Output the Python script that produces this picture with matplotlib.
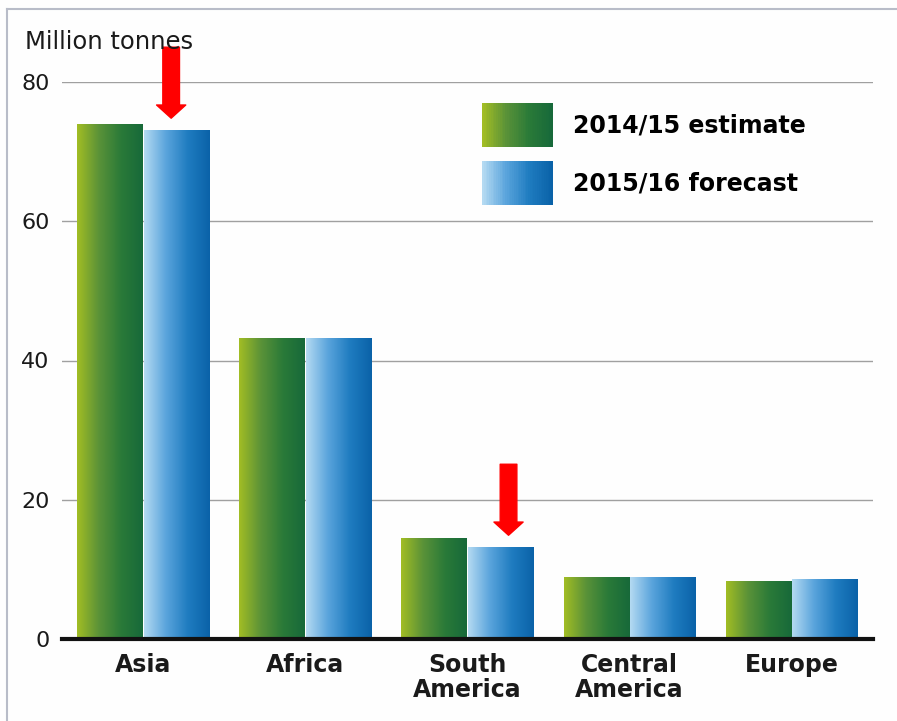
import numpy as np
import matplotlib
matplotlib.use('Agg')
from matplotlib import pyplot as plt
from matplotlib.colors import LinearSegmentedColormap
from matplotlib.legend_handler import HandlerBase
from matplotlib.patches import Rectangle
from matplotlib.lines import Line2D

# data (million tonnes)
regions = ['Asia', 'Africa', 'South\nAmerica', 'Central\nAmerica', 'Europe']
estimate_2014 = [73.9, 43.2, 14.4, 8.8, 8.2]
forecast_2015 = [73.0, 43.2, 13.1, 8.9, 8.6]
series_labels = ['2014/15 estimate', '2015/16 forecast']
flagged = [0, 2]  # regions marked with a red arrow (forecast bar)
arrow_shift = [0.173, 0.253]

green_cmap = LinearSegmentedColormap.from_list('g', ['#a2bd24', '#5a9238', '#2a7a38', '#17693a'])
blue_cmap = LinearSegmentedColormap.from_list('b', ['#b4daf2', '#5aa4dc', '#1f7cc0', '#0a62a8'])


class GradientHandler(HandlerBase):
    """Legend key drawn as vertical stripes of a colormap."""
    def __init__(self, cmap, n=40):
        super().__init__()
        self.cmap = cmap
        self.n = n

    def create_artists(self, legend, orig_handle, xdescent, ydescent,
                       width, height, fontsize, trans):
        arts = []
        w = width / self.n
        for i in range(self.n):
            arts.append(Rectangle((-xdescent + i * w, -ydescent), w * 1.05, height,
                                  facecolor=self.cmap(i / (self.n - 1)),
                                  edgecolor='none', transform=trans))
        return arts


def gradient_bars(ax, bars, cmap):
    grad = np.linspace(0, 1, 256).reshape(1, -1)
    for b in bars:
        x0, y0 = b.get_x(), b.get_y()
        ax.imshow(grad, cmap=cmap, aspect='auto', zorder=2,
                  extent=(x0, x0 + b.get_width(), y0, y0 + b.get_height()))


fig = plt.figure(figsize=(8.97, 7.21), dpi=100)
fig.patch.set_facecolor('#fefefe')
ax = fig.add_axes([62 / 897, 82 / 721, 811 / 897, 557 / 721])

x = np.arange(len(regions))
w = 0.405
bars_g = ax.bar(x - 0.205, estimate_2014, w, color='none', zorder=2)
bars_b = ax.bar(x + 0.205, forecast_2015, w, color='none', zorder=2)
gradient_bars(ax, bars_g, green_cmap)
gradient_bars(ax, bars_b, blue_cmap)

# red arrows above flagged forecast bars
for i, dx in zip(flagged, arrow_shift):
    v = forecast_2015[i]
    ax.annotate('', xy=(x[i] + dx, v + 1.8), xytext=(x[i] + dx, v + 12.0),
                arrowprops=dict(arrowstyle='simple,head_length=0.95,head_width=2.1,tail_width=1.2',
                                mutation_scale=10, color='#ff0000', shrinkA=0, shrinkB=0),
                annotation_clip=False, zorder=5)

ax.set_xlim(-0.5, 4.5)
ax.set_ylim(0, 80)
ax.set_yticks([0, 20, 40, 60, 80])
ax.yaxis.grid(True, color='#a0a0a0', linewidth=1.0)
ax.set_axisbelow(True)
ax.axhline(0, color='#111111', linewidth=3, zorder=3, clip_on=False)
for s in ax.spines.values():
    s.set_visible(False)
ax.set_facecolor('none')

ax.set_xticks(x)
ax.set_xticklabels(regions, fontsize=17, fontweight='bold', color='#1a1a1a',
                   linespacing=1.05, va='top')
ax.tick_params(axis='x', length=0, pad=10)
ax.tick_params(axis='y', length=0, pad=9, labelsize=16, labelcolor='#1a1a1a')

fig.text(25 / 897, 1 - 42 / 721, 'Million tonnes', fontsize=17.5, color='#1a1a1a',
         va='center', ha='left')

handles = [Rectangle((0, 0), 1, 1), Rectangle((0, 1), 1, 1)]
ax.legend(handles, series_labels, loc='upper left', bbox_to_anchor=(0.518, 0.962),
          frameon=False, borderpad=0, borderaxespad=0,
          handlelength=3.0, handleheight=2.45, handletextpad=0.85, labelspacing=0.62,
          prop={'weight': 'bold', 'size': 17},
          handler_map={handles[0]: GradientHandler(green_cmap),
                       handles[1]: GradientHandler(blue_cmap)})

# thin frame lines of the original panel
fig.add_artist(Line2D([7 / 897, 1], [1 - 9 / 721, 1 - 9 / 721], color='#b8bcc8', linewidth=1.5))
fig.add_artist(Line2D([7 / 897, 7 / 897], [0, 1 - 9 / 721], color='#b8bcc8', linewidth=1.5))

fig.savefig('out.png', dpi=100, facecolor=fig.get_facecolor())
